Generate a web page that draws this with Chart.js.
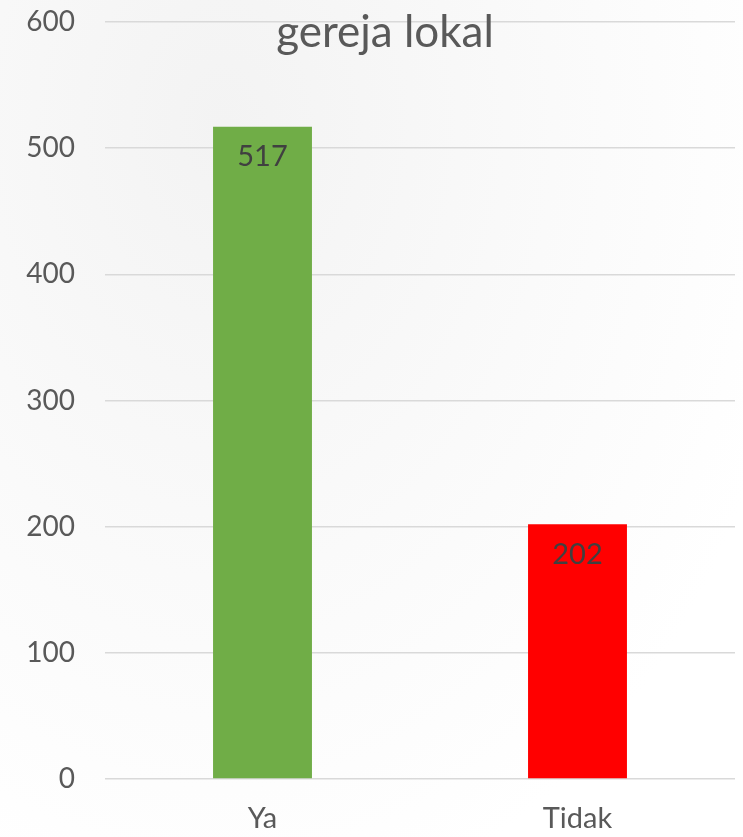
<!DOCTYPE html>
<html>
<head>
<meta charset="utf-8">
<script src="https://cdn.jsdelivr.net/npm/chart.js@4"></script>
<style>
    html, body { margin: 0; padding: 0; }
    body {
        width: 743px; height: 837px; overflow: hidden;
        background: radial-gradient(ellipse at 30% 15%, #f3f3f3 0%, #fafafa 45%, #ffffff 80%);
    }
    #wrap { position: relative; width: 743px; height: 837px; }
</style>
</head>
<body>
<div id="wrap"><canvas id="chart"></canvas></div>
<script>
const categories = ['Ya', 'Tidak'];
const values = [517, 202];
const barColors = ['#70AD47', '#FF0000'];
const yTicks = [0, 100, 200, 300, 400, 500, 600];
const chartTitle = 'gereja lokal';

const FONT = 'Lato, "Open Sans", sans-serif';

// judul digambar di atas area plot (menumpuk garis 600 seperti aslinya)
const titlePlugin = {
    id: 'titleOverlay',
    afterDraw(chart) {
        const c = chart.ctx;
        c.save();
        c.font = '44px ' + FONT;
        c.fillStyle = '#595959';
        c.textAlign = 'center';
        c.textBaseline = 'alphabetic';
        c.fillText(chartTitle, 385, 47);
        c.restore();
    }
};

// angka di dalam ujung atas batang
const valueLabels = {
    id: 'valueLabels',
    afterDatasetsDraw(chart) {
        const c = chart.ctx;
        const meta = chart.getDatasetMeta(0);
        c.save();
        c.font = '29px ' + FONT;
        c.fillStyle = '#404040';
        c.textAlign = 'center';
        c.textBaseline = 'middle';
        meta.data.forEach((bar, i) => {
            c.fillText(values[i], bar.x, bar.y + 30);
        });
        c.restore();
    }
};

const ctx = document.getElementById('chart').getContext('2d');
const chart = new Chart(ctx, {
    type: 'bar',
    data: {
        labels: categories,
        datasets: [{
            data: values,
            backgroundColor: barColors,
            borderWidth: 0,
            barPercentage: 0.314,
            categoryPercentage: 1
        }]
    },
    options: {
        responsive: true,
        maintainAspectRatio: false,
        animation: false,
        layout: { padding: { top: 22, right: 8, left: 0, bottom: 0 } },
        plugins: {
            legend: { display: false },
            tooltip: { enabled: false }
        },
        scales: {
            x: {
                afterFit(scale) { scale.height = 58; },
                grid: { display: false, drawTicks: false },
                border: { display: false },
                ticks: {
                    color: '#595959',
                    font: { family: FONT, size: 29 },
                    padding: 22
                }
            },
            y: {
                min: 0,
                max: 600,
                afterFit(scale) {
                    scale.width = 105;
                    scale.paddingTop = 0;
                    scale.paddingBottom = 0;
                },
                afterBuildTicks(scale) { scale.ticks = yTicks.map(v => ({ value: v })); },
                grid: { color: '#d9d9d9', lineWidth: 1.5, drawTicks: false },
                border: { display: false },
                ticks: {
                    color: '#595959',
                    font: { family: FONT, size: 28 },
                    padding: 30
                }
            }
        }
    },
    plugins: [titlePlugin, valueLabels]
});
</script>
</body>
</html>
